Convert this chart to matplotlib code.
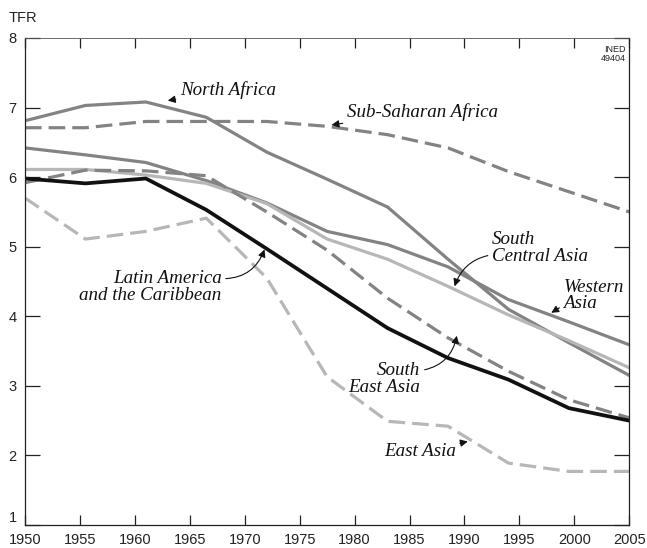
import numpy as np
import matplotlib
matplotlib.use("Agg")
import matplotlib.pyplot as plt

# ---------------- data ----------------
years = np.linspace(1950, 2005, 11)  # 11 five-year periods, 1950-55 ... 2000-05
north_africa = [6.81, 7.03, 7.08, 6.86, 6.36, 5.97, 5.57, 4.82, 4.10, 3.62, 3.15]
sub_saharan = [6.71, 6.71, 6.80, 6.80, 6.80, 6.73, 6.61, 6.42, 6.08, 5.79, 5.50]
western_asia = [6.42, 6.32, 6.21, 5.95, 5.63, 5.22, 5.03, 4.71, 4.24, 3.92, 3.59]
south_central_asia = [6.11, 6.11, 6.03, 5.91, 5.62, 5.11, 4.82, 4.43, 4.02, 3.65, 3.26]
south_east_asia = [5.92, 6.10, 6.09, 6.02, 5.50, 4.95, 4.26, 3.69, 3.21, 2.80, 2.54]
latin_america = [5.98, 5.91, 5.98, 5.53, 4.97, 4.40, 3.83, 3.40, 3.09, 2.68, 2.50]
east_asia = [5.70, 5.11, 5.22, 5.41, 4.55, 3.13, 2.49, 2.42, 1.89, 1.77, 1.77]

xticks = [1950, 1955, 1960, 1965, 1970, 1975, 1980, 1985, 1990, 1995, 2000, 2005]
yticks = [1, 2, 3, 4, 5, 6, 7, 8]

# ---------------- styles ----------------
MID = "#838383"
LIGHT = "#b7b7b7"
DARK = "#111111"
LW = 2.3
DASH = (5.2, 2.2)

plt.rcParams['font.family'] = ['Liberation Sans', 'DejaVu Sans']

fig = plt.figure(figsize=(6.47, 5.48), dpi=100)
ax = fig.add_axes([0.0386, 0.042, 0.934, 0.8887])

ax.plot(years, sub_saharan, color=MID, lw=LW, dashes=DASH)
ax.plot(years, north_africa, color=MID, lw=LW)
ax.plot(years, western_asia, color=MID, lw=LW)
ax.plot(years, south_central_asia, color=LIGHT, lw=LW)
ax.plot(years, south_east_asia, color=MID, lw=LW, dashes=DASH)
ax.plot(years, east_asia, color=LIGHT, lw=LW, dashes=DASH)
ax.plot(years, latin_america, color=DARK, lw=2.7)

ax.set_xlim(1950, 2005)
ax.set_ylim(1, 8)
ax.set_xticks(xticks)
ax.set_yticks(yticks)
ax.tick_params(axis='both', direction='in', labelsize=10.5, colors='#222222',
               width=0.9)
ax.tick_params(axis='y', length=10.5, left=True, right=True, pad=6)
ax.tick_params(axis='x', length=7.5, bottom=True, top=True, pad=6)
ylabels = ax.get_yticklabels()
ylabels[0].set_va('bottom')
for s in ax.spines.values():
    s.set_linewidth(0.9)
    s.set_color('#222222')
ax.spines['top'].set_color('#555555')
ax.spines['top'].set_linewidth(0.6)

fig.text(0.013, 0.968, "TFR", fontsize=10.5, ha='left', va='center', color='#222222')
ax.text(0.994, 0.985, "INED\n49404", transform=ax.transAxes, fontsize=6.5,
        ha='right', va='top', linespacing=1.0, color='#222222')

lab = dict(fontsize=13.7, family=['Liberation Serif', 'DejaVu Serif'], style='italic',
           color='#111111')
arr = dict(arrowstyle='-|>', color='#111111', lw=0.8, mutation_scale=11,
           shrinkA=1, shrinkB=0)

ax.annotate("North Africa", xy=(1963.0, 7.1), xytext=(1964.1, 7.25),
            ha='left', va='center', arrowprops=arr, **lab)
ax.annotate("Sub-Saharan Africa", xy=(1977.9, 6.75), xytext=(1979.3, 6.94),
            ha='left', va='center', arrowprops=arr, **lab)
ax.annotate("South\nCentral Asia", xy=(1989.1, 4.43), xytext=(1992.5, 4.98),
            ha='left', va='center', linespacing=0.95,
            arrowprops=dict(arr, connectionstyle='arc3,rad=0.3',
                            relpos=(0.0, 0.3)), **lab)
ax.annotate("Western\nAsia", xy=(1997.9, 4.05), xytext=(1999.0, 4.3),
            ha='left', va='center', linespacing=0.95,
            arrowprops=dict(arr, relpos=(0.0, 0.2)), **lab)
ax.annotate("Latin America\nand the Caribbean", xy=(1971.8, 4.96), xytext=(1967.9, 4.42),
            ha='right', va='center', linespacing=0.95,
            arrowprops=dict(arr, connectionstyle='arc3,rad=0.35',
                            relpos=(1.0, 0.75)), **lab)
ax.annotate("South\nEast Asia", xy=(1989.3, 3.72), xytext=(1986.0, 3.10),
            ha='right', va='center', linespacing=0.95,
            arrowprops=dict(arr, connectionstyle='arc3,rad=0.35',
                            relpos=(1.0, 0.75)), **lab)
ax.annotate("East Asia", xy=(1990.3, 2.2), xytext=(1989.2, 2.05),
            ha='right', va='center', arrowprops=arr, **lab)

fig.savefig("out.png", dpi=100)
